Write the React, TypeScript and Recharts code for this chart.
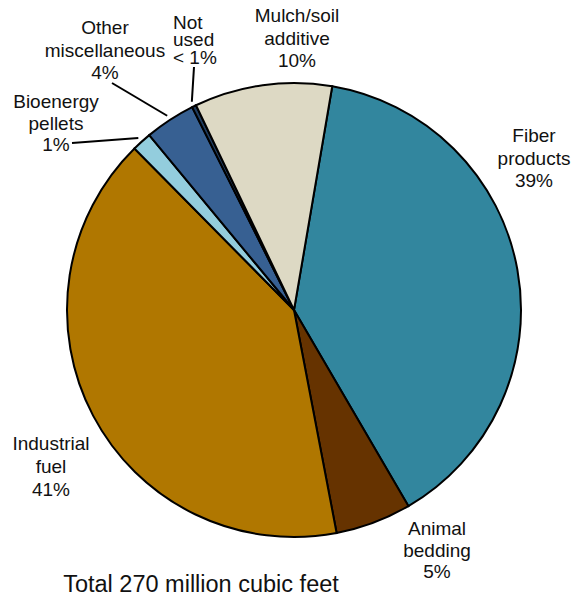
import React from "react"
import { Cell, Pie, PieChart } from "recharts"

// shares of residue use, clockwise from the top-right edge of the mulch slice
const categories = [
  "Fiber products",
  "Animal bedding",
  "Industrial fuel",
  "Bioenergy pellets",
  "Other miscellaneous",
  "Not used",
  "Mulch/soil additive",
]
const shares = [38.9, 5.4, 40.6, 1.4, 3.6, 0.3, 9.8]
const shareText = ["39%", "5%", "41%", "1%", "4%", "< 1%", "10%"]
const nameLines = [
  ["Fiber", "products"],
  ["Animal", "bedding"],
  ["Industrial", "fuel"],
  ["Bioenergy", "pellets"],
  ["Other", "miscellaneous"],
  ["Not", "used"],
  ["Mulch/soil", "additive"],
]
const colors = ["#32869E", "#663300", "#B07700", "#93CDDD", "#376092", "#1F3D60", "#DDD9C4"]

const data = categories.map((name, i) => ({ name, value: shares[i] }))

const FONT = "'Liberation Sans', Arial, sans-serif"
const RAD = Math.PI / 180

// text placement relative to the pie centre; leader = end of the pointer line
type LabelSpot = {
  dx: number
  dy: number
  gap: number
  anchor?: "start" | "middle"
  leader?: [number, number]
}
const labelSpots: LabelSpot[] = [
  { dx: 240, dy: -168, gap: 22.5 },
  { dx: 143, dy: 225, gap: 21.5 },
  { dx: -243, dy: 140, gap: 23 },
  { dx: -238, dy: -202, gap: 21.5, leader: [-222, -167] },
  { dx: -189, dy: -276, gap: 22.5, leader: [-182, -227] },
  { dx: -121, dy: -281.5, gap: 17.5, anchor: "start", leader: [-100, -243] },
  { dx: 3, dy: -288, gap: 22.5 },
]

function SliceLabel(props: any) {
  const { cx, cy, midAngle, outerRadius, index } = props
  const spot = labelSpots[index]
  const lines = [...nameLines[index], shareText[index]]
  let leader = null
  if (spot.leader) {
    const r = outerRadius + 5
    const sx = cx + r * Math.cos(-midAngle * RAD)
    const sy = cy + r * Math.sin(-midAngle * RAD)
    leader = (
      <line
        x1={sx}
        y1={sy}
        x2={cx + spot.leader[0]}
        y2={cy + spot.leader[1]}
        stroke="#000"
        strokeWidth={2}
      />
    )
  }
  return (
    <g>
      {leader}
      <text
        x={cx + spot.dx}
        y={cy + spot.dy}
        textAnchor={spot.anchor ?? "middle"}
        fontFamily={FONT}
        fontSize={19}
        fill="#111"
      >
        {lines.map((t, i) => (
          <tspan key={i} x={cx + spot.dx} dy={i === 0 ? 0 : spot.gap}>
            {t}
          </tspan>
        ))}
      </text>
    </g>
  )
}

export default function App() {
  // pull the chart over the body margin so the top labels have room
  return (
    <div
      style={{
        position: "relative",
        width: 582,
        height: 598,
        marginTop: -8,
        marginLeft: -8,
        background: "#fff",
      }}
    >
      <PieChart width={582} height={598} margin={{ top: 0, right: 0, bottom: 0, left: 0 }}>
        <Pie
          data={data}
          dataKey="value"
          nameKey="name"
          cx={294}
          cy={310}
          outerRadius={227}
          startAngle={80.3}
          endAngle={-279.7}
          stroke="#000"
          strokeWidth={2}
          label={SliceLabel}
          labelLine={false}
          isAnimationActive={false}
        >
          {data.map((d, i) => (
            <Cell key={d.name} fill={colors[i]} />
          ))}
        </Pie>
      </PieChart>
      <div
        style={{
          position: "absolute",
          left: 8,
          width: 386,
          top: 570,
          textAlign: "center",
          fontFamily: FONT,
          fontSize: 23.5,
          color: "#111",
          lineHeight: "28px",
        }}
      >
        Total 270 million cubic feet
      </div>
    </div>
  )
}
